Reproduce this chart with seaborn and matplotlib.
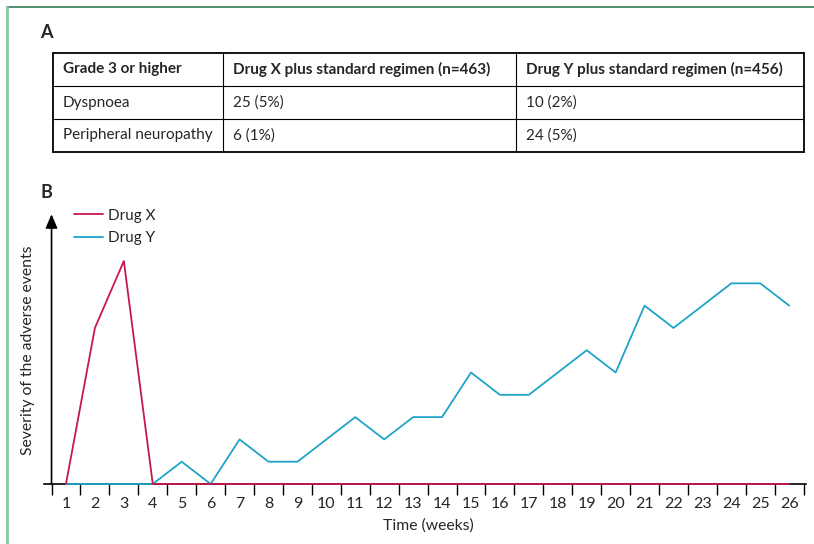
import numpy as np
import pandas as pd
import matplotlib
matplotlib.use("Agg")
import matplotlib.pyplot as plt
import seaborn as sns
from matplotlib.lines import Line2D

# ---- data ----
weeks = list(range(1, 27))
drug_x = [0, 7, 10, 0, 0, 0, 0, 0, 0, 0, 0, 0, 0, 0, 0, 0, 0, 0, 0, 0, 0, 0, 0, 0, 0, 0]
drug_y = [0, 0, 0, 0, 1, 0, 2, 1, 1, 2, 3, 2, 3, 3, 5, 4, 4, 5, 6, 5, 8, 7, 8, 9, 9, 8]

table_header = ["Grade 3 or higher",
                "Drug X plus standard regimen (n=463)",
                "Drug Y plus standard regimen (n=456)"]
table_rows = [["Dyspnoea", "25 (5%)", "10 (2%)"],
              ["Peripheral neuropathy", "6 (1%)", "24 (5%)"]]

RED = "#c5194d"
CYAN = "#1ea4c8"

sns.set_theme(style="white")
plt.rcParams["font.family"] = ["Lato", "DejaVu Sans"]

df = pd.DataFrame({"week": weeks * 2,
                   "severity": drug_x + drug_y,
                   "drug": ["Drug X"] * len(weeks) + ["Drug Y"] * len(weeks)})

fig = plt.figure(figsize=(8.14, 5.44), dpi=100)

# overlay in pixel coordinates for frame + table
ov = fig.add_axes([0, 0, 1, 1])
ov.set_xlim(0, 814)
ov.set_ylim(544, 0)
ov.axis("off")
ov.plot([7, 814], [7, 7], color="#2e7d55", lw=1.2)
ov.plot([7, 7], [7, 544], color="#86c7a6", lw=2)

ov.text(40, 33, "A", fontsize=13, fontweight="bold", va="center", ha="left")
ov.text(40, 192, "B", fontsize=13, fontweight="bold", va="center", ha="left")

# table
col_edges = [53, 223, 516, 804]
row_edges = [53, 86, 119, 152]
for y in row_edges:
    lw = 1.3 if y in (row_edges[0], row_edges[-1]) else 0.8
    ov.plot([col_edges[0], col_edges[-1]], [y, y], color="black", lw=lw)
for x in col_edges:
    lw = 1.3 if x in (col_edges[0], col_edges[-1]) else 0.8
    ov.plot([x, x], [row_edges[0], row_edges[-1]], color="black", lw=lw)
all_rows = [table_header] + table_rows
for r, row in enumerate(all_rows):
    yc = (row_edges[r] + row_edges[r + 1]) / 2
    for c, txt in enumerate(row):
        ov.text(col_edges[c] + 10, yc, txt, fontsize=11, va="center", ha="left",
                fontweight="bold" if r == 0 else "normal")

# ---- line chart ----
ax = fig.add_axes([44 / 814, 60 / 544, 762 / 814, 272 / 544])
ax.set_xlim(0.24, 26.58)
ax.set_ylim(0, 12.2)
ax.patch.set_alpha(0)

sns.lineplot(data=df[df.drug == "Drug Y"], x="week", y="severity", color=CYAN,
             lw=1.3, ax=ax, zorder=3, clip_on=False)
sns.lineplot(data=df[df.drug == "Drug X"], x="week", y="severity", color=RED,
             lw=1.3, ax=ax, zorder=4, clip_on=False)

for s in ["top", "right", "left"]:
    ax.spines[s].set_visible(False)
ax.spines["bottom"].set_color("black")
ax.spines["bottom"].set_linewidth(1.2)
ax.spines["bottom"].set_zorder(2)

ax.annotate("", xy=(0.5, 12.1), xytext=(0.5, 0), xycoords="data",
            arrowprops=dict(arrowstyle="-|>,head_length=0.7,head_width=0.3",
                            color="black", lw=1.2, shrinkA=0, shrinkB=0),
            annotation_clip=False)

ax.set_xticks(weeks)
ax.set_xticklabels([str(w) for w in weeks], fontsize=11.5)
ax.set_xticks(np.arange(0.5, 27, 1.0), minor=True)
ax.tick_params(axis="x", which="major", length=0, pad=9)
ax.tick_params(axis="x", which="minor", length=8, width=1.0, color="black",
               direction="out", bottom=True)
ax.set_yticks([])

ax.set_xlabel("Time (weeks)", fontsize=11.3)
ax.set_ylabel("Severity of the adverse events", fontsize=11.3)
ax.xaxis.set_label_coords((428 - 44) / 762, (484 - 518) / 272)
ax.yaxis.set_label_coords((35 - 44) / 762, (484 - 350) / 272)

handles = [Line2D([], [], color=RED, lw=1.3), Line2D([], [], color=CYAN, lw=1.3)]
ax.legend(handles, ["Drug X", "Drug Y"], loc="upper left", frameon=False,
          bbox_to_anchor=(24 / 762, 1.035), fontsize=11, handlelength=1.9,
          handletextpad=0.35, labelspacing=0.55, borderaxespad=0)

fig.savefig("out.png", dpi=100)
